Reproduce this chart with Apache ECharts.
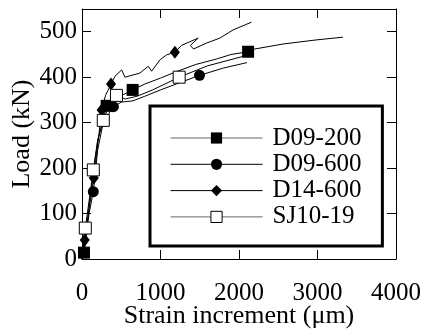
<!DOCTYPE html>
<html>
<head>
<meta charset="utf-8">
<script src="https://cdn.jsdelivr.net/npm/echarts@6/dist/echarts.min.js"></script>
<style>
  html, body { margin: 0; padding: 0; background: #fff; }
  #chart { width: 428px; height: 332px; }
</style>
</head>
<body>
<div id="chart"></div>
<script>
// strain increment (µm), load (kN)
var d09_200 = [[0, 0], [25, 14], [100, 130], [200, 260], [314, 337], [450, 355], [645, 372], [800, 385],
  [1000, 398], [1200, 412], [1450, 428], [1713, 440], [1900, 450], [2116, 456], [2200, 462],
  [2561, 473], [2985, 482], [3324, 488]]
var d09_200Marks = [1, 4, 6, 13]

var d09_600 = [[0, 0], [30, 20], [90, 100], [144, 148], [200, 240], [270, 300], [400, 335], [500, 345],
  [650, 348], [800, 358], [1000, 372], [1200, 385], [1497, 404], [1800, 420], [2100, 432]]
var d09_600Marks = [3, 6, 12]

var d14_600 = [[0, 0], [35, 42], [90, 110], [150, 178], [200, 250], [250, 328], [300, 360], [370, 385],
  [420, 402], [505, 416], [547, 400], [738, 409], [844, 424], [887, 413], [992, 438], [1077, 449],
  [1183, 455], [1268, 470], [1480, 486], [1380, 470], [1420, 462], [1586, 475], [1756, 486],
  [1925, 504], [2159, 521]]
var d14_600Marks = [1, 3, 5, 7, 16]

var sj10_19 = [[0, 0], [42, 68], [100, 140], [144, 196], [200, 262], [271, 305], [350, 340], [439, 360],
  [550, 352], [700, 358], [900, 372], [1238, 400], [1600, 425], [2100, 448], [2180, 452]]
var sj10_19Marks = [1, 3, 5, 7, 11]

var xTicks = [0, 1000, 2000, 3000, 4000]
var yTicks = [0, 100, 200, 300, 400, 500]

var font = 'Liberation Serif'

function withMarks(pts, marks) {
  return pts.map(function (p, i) {
    return marks.indexOf(i) >= 0 ? { value: p } : { value: p, symbol: 'none' }
  })
}

var chart = echarts.init(document.getElementById('chart'))

var frameX = {
  type: 'value', min: xTicks[0], max: xTicks[xTicks.length - 1], interval: 1000,
  axisLine: { show: true, onZero: false, lineStyle: { color: '#000', width: 1 } },
  axisTick: { show: true, inside: true, length: 9, lineStyle: { color: '#000' } },
  splitLine: { show: false }
}
var frameY = {
  type: 'value', min: yTicks[0], max: 550, interval: 100,
  axisLine: { show: true, onZero: false, lineStyle: { color: '#000', width: 1 } },
  axisTick: { show: true, inside: true, length: 9, lineStyle: { color: '#000' } },
  splitLine: { show: false }
}

var option = {
  animation: false,
  backgroundColor: '#fff',
  grid: { left: 82, right: 32, top: 9, bottom: 73, outerBoundsMode: 'none' },
  xAxis: [
    Object.assign({}, frameX, {
      position: 'bottom',
      axisLabel: {
        color: '#000', fontFamily: font, fontSize: 25, margin: 22,
        alignMinLabel: 'center', alignMaxLabel: 'center',
        formatter: function (v) { return String(v) }
      },
      name: 'Strain increment (μm)',
      nameLocation: 'middle',
      nameGap: 44,
      nameMoveOverlap: false,
      nameTextStyle: { color: '#000', fontFamily: font, fontSize: 26 }
    }),
    Object.assign({}, frameX, { position: 'top', axisLabel: { show: false } })
  ],
  yAxis: [
    Object.assign({}, frameY, {
      position: 'left',
      axisLabel: {
        color: '#000', fontFamily: font, fontSize: 25, margin: 5, showMaxLabel: false,
        verticalAlignMinLabel: 'middle'
      },
      name: 'Load (kN)',
      nameLocation: 'middle',
      nameGap: 47,
      nameMoveOverlap: false,
      nameTextStyle: { color: '#000', fontFamily: font, fontSize: 26 }
    }),
    Object.assign({}, frameY, { position: 'right', axisLabel: { show: false } })
  ],
  legend: {
    orient: 'vertical',
    left: 150,
    top: 106,
    padding: [19, 21, 16, 20],
    itemWidth: 92,
    itemHeight: 14,
    itemGap: 0.3,
    borderColor: '#000',
    borderWidth: 3,
    backgroundColor: '#fff',
    lineStyle: { width: 1 },
    itemStyle: { borderWidth: 1 },
    textStyle: { color: '#000', fontFamily: font, fontSize: 25, lineHeight: 26, padding: [0, 0, 0, 5] },
    data: [
      { name: 'D09-200', lineStyle: { color: '#666', width: 1 } },
      { name: 'D09-600', lineStyle: { color: '#000', width: 1 } },
      { name: 'D14-600', lineStyle: { color: '#000', width: 1 } },
      { name: 'SJ10-19', lineStyle: { color: '#666', width: 1 } }
    ]
  },
  series: [
    {
      name: 'D09-200', type: 'line', symbol: 'rect', symbolSize: 12,
      itemStyle: { color: '#000' }, lineStyle: { color: '#000', width: 1 },
      data: withMarks(d09_200, d09_200Marks)
    },
    {
      name: 'D09-600', type: 'line', symbol: 'circle', symbolSize: 11,
      itemStyle: { color: '#000' }, lineStyle: { color: '#000', width: 1 },
      data: withMarks(d09_600, d09_600Marks)
    },
    {
      name: 'D14-600', type: 'line', symbol: 'diamond', symbolSize: [10, 13],
      itemStyle: { color: '#000' }, lineStyle: { color: '#000', width: 1 },
      data: withMarks(d14_600, d14_600Marks)
    },
    {
      name: 'SJ10-19', type: 'line', symbol: 'rect', symbolSize: 12,
      itemStyle: { color: '#fff', borderColor: '#000', borderWidth: 1 },
      lineStyle: { color: '#000', width: 1 },
      data: withMarks(sj10_19, sj10_19Marks)
    }
  ]
}

chart.setOption(option)
</script>
</body>
</html>
